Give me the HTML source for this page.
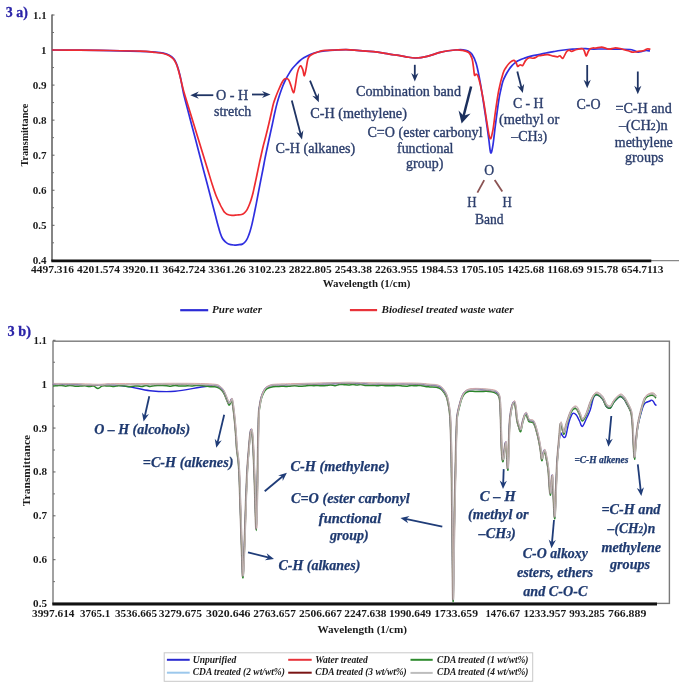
<!DOCTYPE html>
<html><head><meta charset="utf-8"><style>
html,body{margin:0;padding:0;background:#fff;}
svg{display:block;filter:blur(0.35px);}
text{font-family:"Liberation Serif",serif;}
.lbl{font-size:14px;font-weight:bold;fill:#2a23a8;stroke:#2a23a8;stroke-width:0.3px;}
.ax{font-size:10px;font-weight:bold;fill:#1a1a1a;}
.lg{font-size:10px;font-weight:bold;font-style:italic;fill:#1a1a1a;}
.lg2{font-size:9.5px;font-weight:bold;font-style:italic;fill:#1a1a1a;}
.an{font-size:14px;fill:#2c3e6c;stroke:#2c3e6c;stroke-width:0.35px;}
.bn{font-size:14px;font-weight:bold;font-style:italic;fill:#1f3a70;stroke:#1f3a70;stroke-width:0.25px;}
</style></head><body>
<svg width="685" height="688" viewBox="0 0 685 688">
<rect width="685" height="688" fill="#fff"/>
<text x="5.8" y="17.1" class="lbl" textLength="22" lengthAdjust="spacingAndGlyphs">3 a)</text>
<line x1="52" y1="14.5" x2="52" y2="261" stroke="#707070" stroke-width="1.7"/>
<line x1="52" y1="15.00" x2="54.5" y2="15.00" stroke="#606060" stroke-width="1"/>
<line x1="52" y1="32.50" x2="54" y2="32.50" stroke="#707070" stroke-width="1"/>
<line x1="52" y1="50.05" x2="54.5" y2="50.05" stroke="#606060" stroke-width="1"/>
<line x1="52" y1="67.55" x2="54" y2="67.55" stroke="#707070" stroke-width="1"/>
<line x1="52" y1="85.10" x2="54.5" y2="85.10" stroke="#606060" stroke-width="1"/>
<line x1="52" y1="102.60" x2="54" y2="102.60" stroke="#707070" stroke-width="1"/>
<line x1="52" y1="120.15" x2="54.5" y2="120.15" stroke="#606060" stroke-width="1"/>
<line x1="52" y1="137.65" x2="54" y2="137.65" stroke="#707070" stroke-width="1"/>
<line x1="52" y1="155.20" x2="54.5" y2="155.20" stroke="#606060" stroke-width="1"/>
<line x1="52" y1="172.70" x2="54" y2="172.70" stroke="#707070" stroke-width="1"/>
<line x1="52" y1="190.25" x2="54.5" y2="190.25" stroke="#606060" stroke-width="1"/>
<line x1="52" y1="207.75" x2="54" y2="207.75" stroke="#707070" stroke-width="1"/>
<line x1="52" y1="225.30" x2="54.5" y2="225.30" stroke="#606060" stroke-width="1"/>
<line x1="52" y1="242.80" x2="54" y2="242.80" stroke="#707070" stroke-width="1"/>
<line x1="52" y1="260.35" x2="54.5" y2="260.35" stroke="#606060" stroke-width="1"/>
<text x="46.6" y="18.50" class="ax" text-anchor="end" textLength="13.5" lengthAdjust="spacingAndGlyphs">1.1</text>
<text x="46.6" y="53.55" class="ax" text-anchor="end" textLength="5.5" lengthAdjust="spacingAndGlyphs">1</text>
<text x="46.6" y="88.60" class="ax" text-anchor="end" textLength="13.9" lengthAdjust="spacingAndGlyphs">0.9</text>
<text x="46.6" y="123.65" class="ax" text-anchor="end" textLength="13.9" lengthAdjust="spacingAndGlyphs">0.8</text>
<text x="46.6" y="158.70" class="ax" text-anchor="end" textLength="13.9" lengthAdjust="spacingAndGlyphs">0.7</text>
<text x="46.6" y="193.75" class="ax" text-anchor="end" textLength="13.9" lengthAdjust="spacingAndGlyphs">0.6</text>
<text x="46.6" y="228.80" class="ax" text-anchor="end" textLength="13.9" lengthAdjust="spacingAndGlyphs">0.5</text>
<text x="46.6" y="263.85" class="ax" text-anchor="end" textLength="13.9" lengthAdjust="spacingAndGlyphs">0.4</text>
<text transform="translate(28,166.5) rotate(-90)" class="ax" textLength="62.8" lengthAdjust="spacingAndGlyphs">Transmittance</text>
<line x1="52" y1="260.6" x2="679" y2="260.6" stroke="#888" stroke-width="1.1"/>
<line x1="51.3" y1="260.8" x2="651.3" y2="260.8" stroke="#111" stroke-width="2.7"/>
<text x="31" y="272.6" class="ax" textLength="632.6" lengthAdjust="spacingAndGlyphs">4497.316 4201.574 3920.11 3642.724 3361.26 3102.23 2822.805 2543.38 2263.955 1984.53 1705.105 1425.68 1168.69 915.78 654.7113</text>
<text x="322.8" y="286.6" class="ax" textLength="87.6" lengthAdjust="spacingAndGlyphs">Wavelength (1/cm)</text>
<line x1="180.2" y1="310.2" x2="208.2" y2="310.2" stroke="#2b2bd6" stroke-width="2.2"/>
<text x="212" y="312.6" class="lg" textLength="50" lengthAdjust="spacingAndGlyphs">Pure water</text>
<line x1="349.9" y1="310.1" x2="377.1" y2="310.1" stroke="#e8333a" stroke-width="2.2"/>
<text x="381.5" y="312.6" class="lg" textLength="132" lengthAdjust="spacingAndGlyphs">Biodiesel treated waste water</text>
<path d="M52.00,50.00 C56.67,50.03 70.33,50.10 80.00,50.20 C89.67,50.30 100.00,50.40 110.00,50.60 C120.00,50.80 132.50,51.13 140.00,51.40 C147.50,51.67 151.10,51.90 155.00,52.20 C158.90,52.50 161.02,52.70 163.40,53.20 C165.78,53.70 167.60,54.30 169.30,55.20 C171.00,56.10 172.47,57.33 173.60,58.60 C174.73,59.87 175.33,61.12 176.10,62.80 C176.87,64.48 177.50,66.37 178.20,68.70 C178.90,71.03 179.62,73.75 180.30,76.80 C180.98,79.85 181.70,83.97 182.30,87.00 C182.90,90.03 182.98,91.17 183.90,95.00 C184.82,98.83 186.50,105.00 187.80,110.00 C189.10,115.00 190.38,120.00 191.70,125.00 C193.02,130.00 194.38,135.00 195.70,140.00 C197.02,145.00 198.30,150.00 199.60,155.00 C200.90,160.00 202.18,165.00 203.50,170.00 C204.82,175.00 206.18,180.00 207.50,185.00 C208.82,190.00 210.10,195.00 211.40,200.00 C212.70,205.00 214.22,210.83 215.30,215.00 C216.38,219.17 217.08,222.00 217.90,225.00 C218.72,228.00 219.43,230.75 220.20,233.00 C220.97,235.25 221.70,237.08 222.50,238.50 C223.30,239.92 224.00,240.58 225.00,241.50 C226.00,242.42 227.05,243.42 228.50,244.00 C229.95,244.58 232.12,244.87 233.70,245.00 C235.28,245.13 236.55,244.95 238.00,244.80 C239.45,244.65 241.15,244.65 242.40,244.10 C243.65,243.55 244.63,242.52 245.50,241.50 C246.37,240.48 246.85,239.67 247.60,238.00 C248.35,236.33 249.27,233.82 250.00,231.50 C250.73,229.18 251.30,227.02 252.00,224.10 C252.70,221.18 253.47,217.48 254.20,214.00 C254.93,210.52 255.68,206.87 256.40,203.20 C257.12,199.53 257.78,195.78 258.50,192.00 C259.22,188.22 259.95,184.33 260.70,180.50 C261.45,176.67 262.27,172.77 263.00,169.00 C263.73,165.23 264.32,161.82 265.10,157.90 C265.88,153.98 266.83,149.57 267.70,145.50 C268.57,141.43 269.53,137.00 270.30,133.50 C271.07,130.00 271.58,127.83 272.30,124.50 C273.02,121.17 273.80,117.07 274.60,113.50 C275.40,109.93 276.22,106.35 277.10,103.10 C277.98,99.85 278.93,96.90 279.90,94.00 C280.87,91.10 281.93,88.12 282.90,85.70 C283.87,83.28 284.73,81.43 285.70,79.50 C286.67,77.57 287.65,75.85 288.70,74.10 C289.75,72.35 290.83,70.55 292.00,69.00 C293.17,67.45 294.45,66.13 295.70,64.80 C296.95,63.47 298.15,62.17 299.50,61.00 C300.85,59.83 301.92,58.92 303.80,57.80 C305.68,56.68 308.47,55.27 310.80,54.30 C313.13,53.33 315.47,52.58 317.80,52.00 C320.13,51.42 321.93,51.12 324.80,50.80 C327.67,50.48 330.80,50.27 335.00,50.10 C339.20,49.93 343.60,49.53 350.00,49.80 C356.40,50.07 367.57,51.12 373.40,51.70 C379.23,52.28 381.10,52.72 385.00,53.30 C388.90,53.88 393.30,54.62 396.80,55.20 C400.30,55.78 402.90,56.33 406.00,56.80 C409.10,57.27 411.88,58.07 415.40,58.00 C418.92,57.93 422.82,57.38 427.10,56.40 C431.38,55.42 436.42,53.17 441.10,52.10 C445.78,51.03 451.55,50.38 455.20,50.00 C458.85,49.62 460.87,49.63 463.00,49.80 C465.13,49.97 466.50,50.27 468.00,51.00 C469.50,51.73 470.63,52.13 472.00,54.20 C473.37,56.27 474.80,58.53 476.20,63.40 C477.60,68.27 478.87,74.77 480.40,83.40 C481.93,92.03 484.02,106.00 485.40,115.20 C486.78,124.40 487.82,132.33 488.70,138.60 C489.58,144.87 490.00,151.68 490.70,152.80 C491.40,153.92 492.12,149.90 492.90,145.30 C493.68,140.70 494.42,132.72 495.40,125.20 C496.38,117.68 497.87,106.23 498.80,100.20 C499.73,94.17 500.30,92.20 501.00,89.00 C501.70,85.80 502.17,83.42 503.00,81.00 C503.83,78.58 505.00,76.42 506.00,74.50 C507.00,72.58 508.00,70.98 509.00,69.50 C510.00,68.02 511.00,66.72 512.00,65.60 C513.00,64.48 514.00,63.60 515.00,62.80 C516.00,62.00 517.00,61.37 518.00,60.80 C519.00,60.23 519.97,59.83 521.00,59.40 C522.03,58.97 522.53,58.73 524.20,58.20 C525.87,57.67 528.57,56.80 531.00,56.20 C533.43,55.60 536.30,55.13 538.80,54.60 C541.30,54.07 543.57,53.48 546.00,53.00 C548.43,52.52 551.07,52.12 553.40,51.70 C555.73,51.28 557.57,50.87 560.00,50.50 C562.43,50.13 565.50,49.75 568.00,49.50 C570.50,49.25 572.57,49.17 575.00,49.00 C577.43,48.83 580.10,48.50 582.60,48.50 C585.10,48.50 586.27,48.92 590.00,49.00 C593.73,49.08 600.00,48.97 605.00,49.00 C610.00,49.03 615.83,49.12 620.00,49.20 C624.17,49.28 627.67,49.28 630.00,49.50 C632.33,49.72 632.67,50.05 634.00,50.50 C635.33,50.95 636.67,52.03 638.00,52.20 C639.33,52.37 640.67,51.78 642.00,51.50 C643.33,51.22 644.67,50.58 646.00,50.50 C647.33,50.42 649.33,50.92 650.00,51.00" fill="none" stroke="#2f2fe0" stroke-width="1.7" stroke-linejoin="round"/>
<path d="M52.00,50.00 C56.67,50.03 70.33,50.12 80.00,50.20 C89.67,50.28 100.00,50.33 110.00,50.50 C120.00,50.67 132.50,50.88 140.00,51.20 C147.50,51.52 151.10,52.02 155.00,52.40 C158.90,52.78 161.02,52.95 163.40,53.50 C165.78,54.05 167.60,54.75 169.30,55.70 C171.00,56.65 172.47,57.90 173.60,59.20 C174.73,60.50 175.33,61.80 176.10,63.50 C176.87,65.20 177.50,67.05 178.20,69.40 C178.90,71.75 179.53,74.53 180.30,77.60 C181.07,80.67 182.05,84.90 182.80,87.80 C183.55,90.70 183.70,91.30 184.80,95.00 C185.90,98.70 187.87,105.00 189.40,110.00 C190.93,115.00 192.47,120.00 194.00,125.00 C195.53,130.00 197.07,135.00 198.60,140.00 C200.13,145.00 201.67,150.00 203.20,155.00 C204.73,160.00 206.27,165.00 207.80,170.00 C209.33,175.00 211.03,180.75 212.40,185.00 C213.77,189.25 214.72,192.25 216.00,195.50 C217.28,198.75 219.02,202.25 220.10,204.50 C221.18,206.75 221.78,207.73 222.50,209.00 C223.22,210.27 223.65,211.22 224.40,212.10 C225.15,212.98 225.73,213.75 227.00,214.30 C228.27,214.85 230.33,215.28 232.00,215.40 C233.67,215.52 235.40,215.15 237.00,215.00 C238.60,214.85 240.35,214.87 241.60,214.50 C242.85,214.13 243.63,213.53 244.50,212.80 C245.37,212.07 246.05,211.32 246.80,210.10 C247.55,208.88 248.28,207.23 249.00,205.50 C249.72,203.77 250.43,201.78 251.10,199.70 C251.77,197.62 252.42,195.33 253.00,193.00 C253.58,190.67 253.97,188.62 254.60,185.70 C255.23,182.78 256.07,178.98 256.80,175.50 C257.53,172.02 258.27,168.22 259.00,164.80 C259.73,161.38 260.48,158.18 261.20,155.00 C261.92,151.82 262.50,148.95 263.30,145.70 C264.10,142.45 265.08,139.12 266.00,135.50 C266.92,131.88 267.93,127.67 268.80,124.00 C269.67,120.33 270.40,116.98 271.20,113.50 C272.00,110.02 272.72,106.18 273.60,103.10 C274.48,100.02 275.53,97.52 276.50,95.00 C277.47,92.48 278.48,90.08 279.40,88.00 C280.32,85.92 281.22,83.95 282.00,82.50 C282.78,81.05 283.37,79.97 284.10,79.30 C284.83,78.63 285.63,78.40 286.40,78.50 C287.17,78.60 287.93,78.70 288.70,79.90 C289.47,81.10 290.22,83.57 291.00,85.70 C291.78,87.83 292.72,92.50 293.40,92.70 C294.08,92.90 294.43,90.20 295.10,86.90 C295.77,83.60 296.53,76.40 297.40,72.90 C298.27,69.40 299.42,66.48 300.30,65.90 C301.18,65.32 302.02,67.75 302.70,69.40 C303.38,71.05 303.82,75.98 304.40,75.80 C304.98,75.62 305.62,71.10 306.20,68.30 C306.78,65.50 307.23,61.13 307.90,59.00 C308.57,56.87 308.55,56.67 310.20,55.50 C311.85,54.33 315.37,52.85 317.80,52.00 C320.23,51.15 321.93,50.73 324.80,50.40 C327.67,50.07 330.80,50.10 335.00,50.00 C339.20,49.90 343.60,49.52 350.00,49.80 C356.40,50.08 367.57,51.12 373.40,51.70 C379.23,52.28 381.10,52.72 385.00,53.30 C388.90,53.88 393.30,54.62 396.80,55.20 C400.30,55.78 402.90,56.33 406.00,56.80 C409.10,57.27 411.88,58.07 415.40,58.00 C418.92,57.93 422.82,57.38 427.10,56.40 C431.38,55.42 436.42,53.17 441.10,52.10 C445.78,51.03 451.72,50.30 455.20,50.00 C458.68,49.70 459.75,49.88 462.00,50.30 C464.25,50.72 467.03,51.15 468.70,52.50 C470.37,53.85 471.22,56.03 472.00,58.40 C472.78,60.77 472.98,63.92 473.40,66.70 C473.82,69.48 474.03,73.85 474.50,75.10 C474.97,76.35 475.63,74.07 476.20,74.20 C476.77,74.33 477.20,74.08 477.90,75.90 C478.60,77.72 479.43,80.78 480.40,85.10 C481.37,89.42 482.58,95.38 483.70,101.80 C484.82,108.22 486.03,117.47 487.10,123.60 C488.17,129.73 489.13,137.50 490.10,138.60 C491.07,139.70 492.02,134.65 492.90,130.20 C493.78,125.75 494.42,118.58 495.40,111.90 C496.38,105.22 497.53,96.52 498.80,90.10 C500.07,83.68 501.80,77.17 503.00,73.40 C504.20,69.63 505.00,69.15 506.00,67.50 C507.00,65.85 508.00,64.58 509.00,63.50 C510.00,62.42 511.17,61.52 512.00,61.00 C512.83,60.48 513.33,60.15 514.00,60.40 C514.67,60.65 515.40,61.52 516.00,62.50 C516.60,63.48 517.10,65.80 517.60,66.30 C518.10,66.80 518.52,65.75 519.00,65.50 C519.48,65.25 519.88,64.80 520.50,64.80 C521.12,64.80 521.83,66.23 522.70,65.50 C523.57,64.77 524.60,61.68 525.70,60.40 C526.80,59.12 527.97,58.17 529.30,57.80 C530.63,57.43 532.12,58.53 533.70,58.20 C535.28,57.87 537.25,56.30 538.80,55.80 C540.35,55.30 541.53,55.40 543.00,55.20 C544.47,55.00 545.87,54.45 547.60,54.60 C549.33,54.75 551.70,55.73 553.40,56.10 C555.10,56.47 556.70,56.85 557.80,56.80 C558.90,56.75 559.15,55.57 560.00,55.80 C560.85,56.03 561.82,58.88 562.90,58.20 C563.98,57.52 565.40,53.03 566.50,51.70 C567.60,50.37 568.65,50.25 569.50,50.20 C570.35,50.15 570.38,51.52 571.60,51.40 C572.82,51.28 574.97,49.93 576.80,49.50 C578.63,49.07 581.32,48.47 582.60,48.80 C583.88,49.13 583.90,50.28 584.50,51.50 C585.10,52.72 585.62,56.02 586.20,56.10 C586.78,56.18 587.38,53.18 588.00,52.00 C588.62,50.82 589.10,49.67 589.90,49.00 C590.70,48.33 591.78,48.17 592.80,48.00 C593.82,47.83 594.53,48.15 596.00,48.00 C597.47,47.85 599.93,47.05 601.60,47.10 C603.27,47.15 604.65,47.95 606.00,48.30 C607.35,48.65 608.28,49.25 609.70,49.20 C611.12,49.15 612.78,48.12 614.50,48.00 C616.22,47.88 618.25,48.17 620.00,48.50 C621.75,48.83 623.50,49.58 625.00,50.00 C626.50,50.42 627.83,50.63 629.00,51.00 C630.17,51.37 630.83,52.07 632.00,52.20 C633.17,52.33 634.63,51.97 636.00,51.80 C637.37,51.63 638.87,51.42 640.20,51.20 C641.53,50.98 642.87,50.87 644.00,50.50 C645.13,50.13 645.93,49.22 647.00,49.00 C648.07,48.78 649.83,49.17 650.40,49.20" fill="none" stroke="#ee2b30" stroke-width="1.7" stroke-linejoin="round"/>
<text x="216" y="99.6" class="an" textLength="32.3" lengthAdjust="spacingAndGlyphs">O - H</text>
<text x="214" y="116" class="an" textLength="37.2" lengthAdjust="spacingAndGlyphs">stretch</text>
<text x="310.2" y="117.8" class="an" textLength="96.7" lengthAdjust="spacingAndGlyphs">C-H (methylene)</text>
<text x="275.6" y="153" class="an" textLength="79.6" lengthAdjust="spacingAndGlyphs">C-H (alkanes)</text>
<text x="356" y="95.5" class="an" textLength="105" lengthAdjust="spacingAndGlyphs">Combination band</text>
<text x="367.4" y="137.4" class="an" textLength="115.2" lengthAdjust="spacingAndGlyphs">C=O (ester carbonyl</text>
<text x="397" y="152.8" class="an" textLength="56.5" lengthAdjust="spacingAndGlyphs">functional</text>
<text x="406.1" y="168.2" class="an" textLength="37.2" lengthAdjust="spacingAndGlyphs">group)</text>
<text x="512.9" y="108.2" class="an" textLength="30.7" lengthAdjust="spacingAndGlyphs">C - H</text>
<text x="498.9" y="124.1" class="an" textLength="60.4" lengthAdjust="spacingAndGlyphs">(methyl or</text>
<text x="511.2" y="140.7" class="an" textLength="35.9" lengthAdjust="spacingAndGlyphs">–CH<tspan font-size="9.5">3</tspan>)</text>
<text x="576.5" y="108.5" class="an" textLength="24.1" lengthAdjust="spacingAndGlyphs">C-O</text>
<text x="615.4" y="113.2" class="an" textLength="56.4" lengthAdjust="spacingAndGlyphs">=C-H and</text>
<text x="618.9" y="129.5" class="an" textLength="48.8" lengthAdjust="spacingAndGlyphs">–(CH<tspan font-size="9.5">2</tspan>)n</text>
<text x="614.8" y="146.8" class="an" textLength="58" lengthAdjust="spacingAndGlyphs">methylene</text>
<text x="625" y="162.2" class="an" textLength="38.6" lengthAdjust="spacingAndGlyphs">groups</text>
<text x="484.2" y="174.5" class="an" textLength="9.9" lengthAdjust="spacingAndGlyphs">O</text>
<text x="467.3" y="207.2" class="an" textLength="9.3" lengthAdjust="spacingAndGlyphs">H</text>
<text x="502.6" y="207.2" class="an" textLength="9.3" lengthAdjust="spacingAndGlyphs">H</text>
<text x="474.9" y="223.6" class="an" textLength="28.6" lengthAdjust="spacingAndGlyphs">Band</text>
<line x1="484.2" y1="180.1" x2="477.4" y2="192.6" stroke="#8a5252" stroke-width="1.8"/>
<line x1="494.7" y1="180.1" x2="502.3" y2="191.5" stroke="#8a5252" stroke-width="1.8"/>
<line x1="213.30" y1="95.20" x2="195.40" y2="95.20" stroke="#1f3464" stroke-width="1.8"/>
<path d="M190.30,95.20 L198.80,91.60 L196.00,95.20 L198.80,98.80 Z" fill="#1f3464"/>
<line x1="252.00" y1="94.50" x2="265.40" y2="94.50" stroke="#1f3464" stroke-width="1.8"/>
<path d="M270.50,94.50 L262.00,98.10 L264.80,94.50 L262.00,90.90 Z" fill="#1f3464"/>
<line x1="291.80" y1="100.40" x2="300.71" y2="134.57" stroke="#1f3464" stroke-width="1.8"/>
<path d="M302.00,139.50 L296.37,132.18 L300.56,133.98 L303.34,130.37 Z" fill="#1f3464"/>
<line x1="310.00" y1="80.70" x2="316.87" y2="97.48" stroke="#1f3464" stroke-width="1.8"/>
<path d="M318.80,102.20 L312.25,95.70 L316.64,96.92 L318.91,92.97 Z" fill="#1f3464"/>
<line x1="414.80" y1="64.80" x2="414.80" y2="76.40" stroke="#1f3464" stroke-width="1.8"/>
<path d="M414.80,81.50 L411.20,73.00 L414.80,75.80 L418.40,73.00 Z" fill="#1f3464"/>
<line x1="471.10" y1="86.50" x2="463.49" y2="116.24" stroke="#1b2f5c" stroke-width="2.5"/>
<path d="M461.60,123.60 L458.57,110.44 L463.63,115.66 L470.58,113.51 Z" fill="#1b2f5c"/>
<line x1="517.30" y1="71.50" x2="521.54" y2="88.06" stroke="#1f3464" stroke-width="1.8"/>
<path d="M522.80,93.00 L517.21,85.66 L521.39,87.48 L524.18,83.87 Z" fill="#1f3464"/>
<line x1="587.20" y1="65.00" x2="587.20" y2="83.10" stroke="#1f3464" stroke-width="1.8"/>
<path d="M587.20,88.20 L583.60,79.70 L587.20,82.50 L590.80,79.70 Z" fill="#1f3464"/>
<line x1="637.80" y1="71.50" x2="637.80" y2="89.10" stroke="#1f3464" stroke-width="1.8"/>
<path d="M637.80,94.20 L634.20,85.70 L637.80,88.50 L641.40,85.70 Z" fill="#1f3464"/>
<text x="7.6" y="335.8" class="lbl" textLength="23.4" lengthAdjust="spacingAndGlyphs">3 b)</text>
<rect x="53" y="341.2" width="616.4" height="262.2" fill="none" stroke="#7a7a7a" stroke-width="1.4"/>
<line x1="53" y1="340.30" x2="55.5" y2="340.30" stroke="#606060" stroke-width="1"/>
<line x1="53" y1="362.24" x2="55" y2="362.24" stroke="#707070" stroke-width="1"/>
<line x1="53" y1="384.18" x2="55.5" y2="384.18" stroke="#606060" stroke-width="1"/>
<line x1="53" y1="406.12" x2="55" y2="406.12" stroke="#707070" stroke-width="1"/>
<line x1="53" y1="428.06" x2="55.5" y2="428.06" stroke="#606060" stroke-width="1"/>
<line x1="53" y1="450.00" x2="55" y2="450.00" stroke="#707070" stroke-width="1"/>
<line x1="53" y1="471.94" x2="55.5" y2="471.94" stroke="#606060" stroke-width="1"/>
<line x1="53" y1="493.88" x2="55" y2="493.88" stroke="#707070" stroke-width="1"/>
<line x1="53" y1="515.82" x2="55.5" y2="515.82" stroke="#606060" stroke-width="1"/>
<line x1="53" y1="537.76" x2="55" y2="537.76" stroke="#707070" stroke-width="1"/>
<line x1="53" y1="559.70" x2="55.5" y2="559.70" stroke="#606060" stroke-width="1"/>
<line x1="53" y1="581.64" x2="55" y2="581.64" stroke="#707070" stroke-width="1"/>
<line x1="53" y1="603.58" x2="55.5" y2="603.58" stroke="#606060" stroke-width="1"/>
<text x="47" y="343.80" class="ax" text-anchor="end" textLength="13.5" lengthAdjust="spacingAndGlyphs">1.1</text>
<text x="47" y="387.68" class="ax" text-anchor="end" textLength="5.5" lengthAdjust="spacingAndGlyphs">1</text>
<text x="47" y="431.56" class="ax" text-anchor="end" textLength="13.9" lengthAdjust="spacingAndGlyphs">0.9</text>
<text x="47" y="475.44" class="ax" text-anchor="end" textLength="13.9" lengthAdjust="spacingAndGlyphs">0.8</text>
<text x="47" y="519.32" class="ax" text-anchor="end" textLength="13.9" lengthAdjust="spacingAndGlyphs">0.7</text>
<text x="47" y="563.20" class="ax" text-anchor="end" textLength="13.9" lengthAdjust="spacingAndGlyphs">0.6</text>
<text x="47" y="607.08" class="ax" text-anchor="end" textLength="13.9" lengthAdjust="spacingAndGlyphs">0.5</text>
<text transform="translate(29.6,506.2) rotate(-90)" class="ax" textLength="71.4" lengthAdjust="spacingAndGlyphs">Transmittance</text>
<line x1="52.3" y1="604" x2="657" y2="604" stroke="#111" stroke-width="2.8"/>
<text x="32" y="616.6" class="ax" textLength="42.5" lengthAdjust="spacingAndGlyphs">3997.614</text>
<text x="79.9" y="616.6" class="ax" textLength="30.4" lengthAdjust="spacingAndGlyphs">3765.1</text>
<text x="115" y="616.6" class="ax" textLength="42.0" lengthAdjust="spacingAndGlyphs">3536.665</text>
<text x="158.7" y="616.6" class="ax" textLength="43.3" lengthAdjust="spacingAndGlyphs">3279.675</text>
<text x="206" y="616.6" class="ax" textLength="44.5" lengthAdjust="spacingAndGlyphs">3020.646</text>
<text x="253.3" y="616.6" class="ax" textLength="42.5" lengthAdjust="spacingAndGlyphs">2763.657</text>
<text x="299" y="616.6" class="ax" textLength="43.0" lengthAdjust="spacingAndGlyphs">2506.667</text>
<text x="344.3" y="616.6" class="ax" textLength="42.2" lengthAdjust="spacingAndGlyphs">2247.638</text>
<text x="388.9" y="616.6" class="ax" textLength="42.3" lengthAdjust="spacingAndGlyphs">1990.649</text>
<text x="434.3" y="616.6" class="ax" textLength="43.7" lengthAdjust="spacingAndGlyphs">1733.659</text>
<text x="485.5" y="616.6" class="ax" textLength="34.7" lengthAdjust="spacingAndGlyphs">1476.67</text>
<text x="523.4" y="616.6" class="ax" textLength="42.7" lengthAdjust="spacingAndGlyphs">1233.957</text>
<text x="569.2" y="616.6" class="ax" textLength="35.6" lengthAdjust="spacingAndGlyphs">993.285</text>
<text x="608" y="616.6" class="ax" textLength="38.3" lengthAdjust="spacingAndGlyphs">766.889</text>
<text x="317.5" y="633.2" class="ax" textLength="89.5" lengthAdjust="spacingAndGlyphs">Wavelength (1/cm)</text>
<rect x="164.2" y="652.8" width="368.5" height="28.5" fill="#fff" stroke="#c8c8c8" stroke-width="1"/>
<line x1="166.9" y1="659.8" x2="189.7" y2="659.8" stroke="#2a2ad0" stroke-width="2"/>
<text x="192.8" y="662.6" class="lg2" textLength="43.5" lengthAdjust="spacingAndGlyphs">Unpurified</text>
<line x1="288.2" y1="659.8" x2="311.7" y2="659.8" stroke="#e8333a" stroke-width="2"/>
<text x="315.2" y="662.6" class="lg2" textLength="52.7" lengthAdjust="spacingAndGlyphs">Water treated</text>
<line x1="410.5" y1="659.8" x2="432.7" y2="659.8" stroke="#2e8b2e" stroke-width="2"/>
<text x="436.9" y="662.6" class="lg2" textLength="91.6" lengthAdjust="spacingAndGlyphs">CDA treated (1 wt/wt%)</text>
<line x1="166.9" y1="672.7" x2="189.7" y2="672.7" stroke="#9cc8ec" stroke-width="2"/>
<text x="192.8" y="675.4" class="lg2" textLength="92" lengthAdjust="spacingAndGlyphs">CDA treated (2 wt/wt%)</text>
<line x1="288.2" y1="672.7" x2="311.7" y2="672.7" stroke="#7a1414" stroke-width="2"/>
<text x="315.2" y="675.4" class="lg2" textLength="91.5" lengthAdjust="spacingAndGlyphs">CDA treated (3 wt/wt%)</text>
<line x1="410.5" y1="672.9" x2="432.7" y2="672.9" stroke="#bdbdbd" stroke-width="2"/>
<text x="436.9" y="675.4" class="lg2" textLength="91.6" lengthAdjust="spacingAndGlyphs">CDA treated (4 wt/wt%)</text>
<path d="M53.00,384.30 C55.83,384.32 64.67,384.32 70.00,384.40 C75.33,384.48 80.33,384.67 85.00,384.80 C89.67,384.93 93.83,385.23 98.00,385.20 C102.17,385.17 104.67,384.32 110.00,384.60 C115.33,384.88 123.33,385.85 130.00,386.87 C136.67,387.89 142.50,389.97 150.00,390.71 C157.50,391.45 166.67,391.90 175.00,391.31 C183.33,390.73 193.33,388.24 200.00,387.22 C206.67,386.20 211.83,385.32 215.00,385.20 C218.17,385.08 217.78,385.78 219.00,386.50 C220.22,387.22 221.38,388.42 222.30,389.50 C223.22,390.58 223.78,391.55 224.50,393.00 C225.22,394.45 225.88,396.48 226.60,398.20 C227.32,399.92 228.18,402.70 228.80,403.30 C229.42,403.90 229.82,402.52 230.30,401.80 C230.78,401.08 231.25,398.47 231.70,399.00 C232.15,399.53 232.52,401.73 233.00,405.00 C233.48,408.27 234.10,413.60 234.60,418.60 C235.10,423.60 235.63,430.17 236.00,435.00 C236.37,439.83 236.30,442.10 236.80,447.60 C237.30,453.10 238.38,457.60 239.00,468.00 C239.62,478.40 240.00,495.50 240.50,510.00 C241.00,524.50 241.58,544.00 242.00,555.00 C242.42,566.00 242.58,577.67 243.00,576.00 C243.42,574.33 244.00,557.67 244.50,545.00 C245.00,532.33 245.53,512.50 246.00,500.00 C246.47,487.50 246.80,478.83 247.30,470.00 C247.80,461.17 248.50,453.17 249.00,447.00 C249.50,440.83 249.92,435.92 250.30,433.00 C250.68,430.08 250.97,429.33 251.30,429.50 C251.63,429.67 251.95,430.58 252.30,434.00 C252.65,437.42 253.02,442.33 253.40,450.00 C253.78,457.67 254.12,466.83 254.60,480.00 C255.08,493.17 255.82,529.00 256.30,529.00 C256.78,529.00 257.12,498.40 257.50,480.00 C257.88,461.60 258.18,431.27 258.60,418.60 C259.02,405.93 259.52,407.63 260.00,404.00 C260.48,400.37 260.92,398.88 261.50,396.80 C262.08,394.72 262.78,392.97 263.50,391.50 C264.22,390.03 264.88,388.88 265.80,388.00 C266.72,387.12 267.78,386.67 269.00,386.20 C270.22,385.73 269.60,385.47 273.10,385.20 C276.60,384.93 283.22,384.80 290.00,384.60 C296.78,384.40 306.30,384.18 313.80,384.00 C321.30,383.82 329.17,383.65 335.00,383.50 C340.83,383.35 343.80,383.08 348.80,383.10 C353.80,383.12 358.13,383.45 365.00,383.60 C371.87,383.75 381.50,383.93 390.00,384.00 C398.50,384.07 409.33,383.82 416.00,384.00 C422.67,384.18 426.60,384.83 430.00,385.10 C433.40,385.37 434.57,385.20 436.40,385.60 C438.23,386.00 439.63,386.45 441.00,387.50 C442.37,388.55 443.65,390.48 444.60,391.90 C445.55,393.32 446.10,394.30 446.70,396.00 C447.30,397.70 447.73,399.77 448.20,402.10 C448.67,404.43 449.13,406.83 449.50,410.00 C449.87,413.17 450.10,414.43 450.40,421.10 C450.70,427.77 451.05,438.52 451.30,450.00 C451.55,461.48 451.70,473.33 451.90,490.00 C452.10,506.67 452.30,531.70 452.50,550.00 C452.70,568.30 452.88,598.13 453.10,599.80 C453.32,601.47 453.55,574.97 453.80,560.00 C454.05,545.03 454.32,525.00 454.60,510.00 C454.88,495.00 455.23,481.67 455.50,470.00 C455.77,458.33 455.95,448.63 456.20,440.00 C456.45,431.37 456.65,423.20 457.00,418.20 C457.35,413.20 457.82,412.43 458.30,410.00 C458.78,407.57 459.37,405.60 459.90,403.60 C460.43,401.60 460.88,399.70 461.50,398.00 C462.12,396.30 462.85,394.57 463.60,393.40 C464.35,392.23 465.03,391.62 466.00,391.00 C466.97,390.38 467.90,389.98 469.40,389.70 C470.90,389.42 473.05,389.33 475.00,389.30 C476.95,389.27 478.38,389.32 481.10,389.50 C483.82,389.68 488.90,390.07 491.30,390.40 C493.70,390.73 494.40,391.00 495.50,391.50 C496.60,392.00 497.27,392.57 497.90,393.40 C498.53,394.23 498.93,395.05 499.30,396.50 C499.67,397.95 499.85,398.18 500.10,402.10 C500.35,406.02 500.53,412.08 500.80,420.00 C501.07,427.92 501.32,442.95 501.70,449.60 C502.08,456.25 502.42,461.12 503.10,459.90 C503.78,458.68 505.02,440.85 505.80,442.30 C506.58,443.75 507.30,468.15 507.80,468.60 C508.30,469.05 508.48,452.78 508.80,445.00 C509.12,437.22 509.25,428.07 509.70,421.90 C510.15,415.73 510.77,411.40 511.50,408.00 C512.23,404.60 513.38,401.50 514.10,401.50 C514.82,401.50 515.32,405.08 515.80,408.00 C516.28,410.92 516.50,416.00 517.00,419.00 C517.50,422.00 518.18,424.18 518.80,426.00 C519.42,427.82 520.00,430.90 520.70,429.90 C521.40,428.90 522.15,422.80 523.00,420.00 C523.85,417.20 524.85,413.15 525.80,413.10 C526.75,413.05 527.83,418.47 528.70,419.70 C529.57,420.93 530.27,420.25 531.00,420.50 C531.73,420.75 532.43,420.45 533.10,421.20 C533.77,421.95 534.40,423.42 535.00,425.00 C535.60,426.58 536.12,428.53 536.70,430.70 C537.28,432.87 537.88,435.08 538.50,438.00 C539.12,440.92 539.85,444.68 540.40,448.20 C540.95,451.72 541.33,458.30 541.80,459.10 C542.27,459.90 542.72,454.45 543.20,453.00 C543.68,451.55 544.15,449.57 544.70,450.40 C545.25,451.23 545.88,454.73 546.50,458.00 C547.12,461.27 547.77,464.08 548.40,470.00 C549.03,475.92 549.67,492.63 550.30,493.50 C550.93,494.37 551.68,474.95 552.20,475.20 C552.72,475.45 552.97,488.02 553.40,495.00 C553.83,501.98 554.37,517.93 554.80,517.10 C555.23,516.27 555.60,499.30 556.00,490.00 C556.40,480.70 556.65,469.63 557.20,461.30 C557.75,452.97 558.75,444.72 559.30,440.00 C559.85,435.28 560.05,433.83 560.50,433.00 C560.95,432.17 561.42,434.25 562.00,435.00 C562.58,435.75 563.37,437.33 564.00,437.50 C564.63,437.67 565.13,437.92 565.80,436.00 C566.47,434.08 567.30,428.83 568.00,426.00 C568.70,423.17 569.20,421.12 570.00,419.00 C570.80,416.88 571.75,413.97 572.80,413.30 C573.85,412.63 575.18,413.72 576.30,415.00 C577.42,416.28 578.48,419.10 579.50,421.00 C580.52,422.90 581.18,426.95 582.40,426.40 C583.62,425.85 585.48,420.47 586.80,417.70 C588.12,414.93 589.13,413.25 590.30,409.80 C591.47,406.35 592.63,399.50 593.80,397.00 C594.97,394.50 595.83,394.47 597.30,394.80 C598.77,395.13 601.15,397.13 602.60,399.00 C604.05,400.87 605.02,404.50 606.00,406.00 C606.98,407.50 607.77,407.67 608.50,408.00 C609.23,408.33 609.73,408.58 610.40,408.00 C611.07,407.42 611.77,405.67 612.50,404.50 C613.23,403.33 613.53,402.33 614.80,401.00 C616.07,399.67 618.57,396.83 620.10,396.50 C621.63,396.17 622.83,397.70 624.00,399.00 C625.17,400.30 626.10,402.55 627.10,404.30 C628.10,406.05 629.27,407.88 630.00,409.50 C630.73,411.12 631.07,411.42 631.50,414.00 C631.93,416.58 632.25,419.83 632.60,425.00 C632.95,430.17 633.27,439.57 633.60,445.00 C633.93,450.43 634.27,457.43 634.60,457.60 C634.93,457.77 635.23,450.02 635.60,446.00 C635.97,441.98 636.32,437.33 636.80,433.50 C637.28,429.67 637.78,426.42 638.50,423.00 C639.22,419.58 640.30,415.83 641.10,413.00 C641.90,410.17 642.57,407.70 643.30,406.00 C644.03,404.30 644.40,403.63 645.50,402.80 C646.60,401.97 648.88,401.45 649.90,401.00 C650.92,400.55 651.02,400.02 651.60,400.10 C652.18,400.18 652.82,400.77 653.40,401.50 C653.98,402.23 654.58,403.83 655.10,404.50 C655.62,405.17 656.27,405.33 656.50,405.50" fill="none" stroke="#2424d8" stroke-width="1.4" stroke-linejoin="round"/>
<path d="M53.00,385.90 C53.71,385.87 55.83,385.78 57.25,385.71 C58.67,385.65 60.08,385.46 61.50,385.53 C62.92,385.60 64.33,386.16 65.75,386.16 C67.17,386.15 68.46,385.48 70.00,385.49 C71.54,385.49 73.33,386.07 75.00,386.18 C76.67,386.28 78.33,386.16 80.00,386.11 C81.67,386.05 83.44,385.80 85.00,385.87 C86.56,385.94 87.89,386.50 89.33,386.54 C90.78,386.58 92.22,385.78 93.67,386.11 C95.11,386.44 96.61,388.53 98.00,388.52 C99.39,388.52 100.67,386.52 102.00,386.08 C103.33,385.65 104.67,385.90 106.00,385.91 C107.33,385.91 108.67,386.00 110.00,386.11 C111.33,386.22 112.67,386.64 114.00,386.57 C115.33,386.51 116.67,385.84 118.00,385.71 C119.33,385.58 120.67,385.71 122.00,385.81 C123.33,385.90 124.67,386.13 126.00,386.27 C127.33,386.41 128.67,386.65 130.00,386.64 C131.33,386.62 132.67,386.29 134.00,386.17 C135.33,386.06 136.67,385.86 138.00,385.94 C139.33,386.01 140.67,386.69 142.00,386.61 C143.33,386.53 144.67,385.51 146.00,385.48 C147.33,385.45 148.64,386.39 150.00,386.43 C151.36,386.47 152.78,385.87 154.17,385.71 C155.56,385.56 156.94,385.55 158.33,385.51 C159.72,385.46 161.11,385.42 162.50,385.44 C163.89,385.46 165.28,385.51 166.67,385.64 C168.06,385.77 169.44,386.25 170.83,386.21 C172.22,386.18 173.61,385.46 175.00,385.42 C176.39,385.37 177.78,385.83 179.17,385.93 C180.56,386.03 181.94,386.06 183.33,386.03 C184.72,386.00 186.11,385.75 187.50,385.75 C188.89,385.74 190.28,386.04 191.67,385.99 C193.06,385.94 194.44,385.53 195.83,385.44 C197.22,385.36 198.47,385.39 200.00,385.47 C201.53,385.55 203.33,385.70 205.00,385.91 C206.67,386.13 208.33,386.60 210.00,386.75 C211.67,386.90 213.50,386.57 215.00,386.80 C216.50,387.03 217.78,387.38 219.00,388.10 C220.22,388.82 221.38,390.02 222.30,391.10 C223.22,392.18 223.78,393.15 224.50,394.60 C225.22,396.05 225.88,398.08 226.60,399.80 C227.32,401.52 228.18,404.30 228.80,404.90 C229.42,405.50 229.82,404.12 230.30,403.40 C230.78,402.68 231.25,400.07 231.70,400.60 C232.15,401.13 232.52,403.33 233.00,406.60 C233.48,409.87 234.10,415.20 234.60,420.20 C235.10,425.20 235.63,431.77 236.00,436.60 C236.37,441.43 236.30,443.70 236.80,449.20 C237.30,454.70 238.38,459.20 239.00,469.60 C239.62,480.00 240.00,497.10 240.50,511.60 C241.00,526.10 241.58,545.60 242.00,556.60 C242.42,567.60 242.58,579.27 243.00,577.60 C243.42,575.93 244.00,559.27 244.50,546.60 C245.00,533.93 245.53,514.10 246.00,501.60 C246.47,489.10 246.80,480.43 247.30,471.60 C247.80,462.77 248.50,454.77 249.00,448.60 C249.50,442.43 249.92,437.52 250.30,434.60 C250.68,431.68 250.97,430.93 251.30,431.10 C251.63,431.27 251.95,432.18 252.30,435.60 C252.65,439.02 253.02,443.93 253.40,451.60 C253.78,459.27 254.12,468.43 254.60,481.60 C255.08,494.77 255.82,530.60 256.30,530.60 C256.78,530.60 257.12,500.00 257.50,481.60 C257.88,463.20 258.18,432.87 258.60,420.20 C259.02,407.53 259.52,409.23 260.00,405.60 C260.48,401.97 260.92,400.48 261.50,398.40 C262.08,396.32 262.78,394.57 263.50,393.10 C264.22,391.63 264.88,390.48 265.80,389.60 C266.72,388.72 267.78,388.27 269.00,387.80 C270.22,387.33 271.71,387.01 273.10,386.80 C274.49,386.59 275.92,386.65 277.33,386.56 C278.73,386.48 280.14,386.30 281.55,386.28 C282.96,386.26 284.37,386.47 285.77,386.45 C287.18,386.43 288.50,386.25 290.00,386.14 C291.50,386.04 293.17,385.81 294.76,385.84 C296.35,385.87 297.93,386.27 299.52,386.31 C301.11,386.35 302.69,386.23 304.28,386.08 C305.87,385.93 307.45,385.48 309.04,385.41 C310.63,385.35 312.30,385.67 313.80,385.69 C315.30,385.71 316.63,385.50 318.04,385.53 C319.45,385.56 320.87,385.84 322.28,385.85 C323.69,385.86 325.11,385.73 326.52,385.58 C327.93,385.42 329.35,384.93 330.76,384.95 C332.17,384.96 333.53,385.75 335.00,385.68 C336.47,385.60 338.07,384.67 339.60,384.51 C341.13,384.35 342.67,384.65 344.20,384.74 C345.73,384.82 347.36,385.06 348.80,385.01 C350.24,384.95 351.50,384.42 352.85,384.41 C354.20,384.40 355.55,384.92 356.90,384.94 C358.25,384.96 359.60,384.44 360.95,384.52 C362.30,384.60 363.63,385.22 365.00,385.40 C366.37,385.58 367.78,385.58 369.17,385.58 C370.56,385.59 371.94,385.38 373.33,385.42 C374.72,385.47 376.11,385.88 377.50,385.85 C378.89,385.82 380.28,385.26 381.67,385.24 C383.06,385.23 384.44,385.69 385.83,385.77 C387.22,385.85 388.58,385.73 390.00,385.71 C391.42,385.70 392.89,385.72 394.33,385.70 C395.78,385.67 397.22,385.50 398.67,385.55 C400.11,385.60 401.56,385.91 403.00,386.01 C404.44,386.11 405.89,386.21 407.33,386.13 C408.78,386.06 410.22,385.63 411.67,385.57 C413.11,385.51 414.50,385.82 416.00,385.80 C417.50,385.78 419.11,385.31 420.67,385.44 C422.22,385.57 423.78,386.34 425.33,386.58 C426.89,386.81 428.16,386.77 430.00,386.88 C431.84,386.98 434.57,386.83 436.40,387.20 C438.23,387.57 439.63,388.05 441.00,389.10 C442.37,390.15 443.65,392.08 444.60,393.50 C445.55,394.92 446.10,395.90 446.70,397.60 C447.30,399.30 447.73,401.37 448.20,403.70 C448.67,406.03 449.13,408.43 449.50,411.60 C449.87,414.77 450.10,416.03 450.40,422.70 C450.70,429.37 451.05,440.12 451.30,451.60 C451.55,463.08 451.70,474.93 451.90,491.60 C452.10,508.27 452.30,533.30 452.50,551.60 C452.70,569.90 452.88,599.73 453.10,601.40 C453.32,603.07 453.55,576.57 453.80,561.60 C454.05,546.63 454.32,526.60 454.60,511.60 C454.88,496.60 455.23,483.27 455.50,471.60 C455.77,459.93 455.95,450.23 456.20,441.60 C456.45,432.97 456.65,424.80 457.00,419.80 C457.35,414.80 457.82,414.03 458.30,411.60 C458.78,409.17 459.37,407.20 459.90,405.20 C460.43,403.20 460.88,401.30 461.50,399.60 C462.12,397.90 462.85,396.17 463.60,395.00 C464.35,393.83 465.03,393.22 466.00,392.60 C466.97,391.98 467.90,391.48 469.40,391.30 C470.90,391.12 473.05,391.46 475.00,391.49 C476.95,391.52 479.23,391.52 481.10,391.49 C482.97,391.45 484.50,391.23 486.20,391.29 C487.90,391.35 489.75,391.56 491.30,391.86 C492.85,392.16 494.40,392.58 495.50,393.10 C496.60,393.62 497.27,394.17 497.90,395.00 C498.53,395.83 498.93,396.65 499.30,398.10 C499.67,399.55 499.85,399.78 500.10,403.70 C500.35,407.62 500.53,413.68 500.80,421.60 C501.07,429.52 501.32,444.55 501.70,451.20 C502.08,457.85 502.42,462.72 503.10,461.50 C503.78,460.28 505.02,442.45 505.80,443.90 C506.58,445.35 507.30,469.75 507.80,470.20 C508.30,470.65 508.48,454.38 508.80,446.60 C509.12,438.82 509.25,429.67 509.70,423.50 C510.15,417.33 510.77,413.00 511.50,409.60 C512.23,406.20 513.38,403.10 514.10,403.10 C514.82,403.10 515.32,406.68 515.80,409.60 C516.28,412.52 516.50,417.60 517.00,420.60 C517.50,423.60 518.18,425.78 518.80,427.60 C519.42,429.42 520.00,432.50 520.70,431.50 C521.40,430.50 522.15,424.40 523.00,421.60 C523.85,418.80 524.85,414.75 525.80,414.70 C526.75,414.65 527.83,420.07 528.70,421.30 C529.57,422.53 530.27,421.85 531.00,422.10 C531.73,422.35 532.43,422.05 533.10,422.80 C533.77,423.55 534.40,425.02 535.00,426.60 C535.60,428.18 536.12,430.13 536.70,432.30 C537.28,434.47 537.88,436.68 538.50,439.60 C539.12,442.52 539.85,446.28 540.40,449.80 C540.95,453.32 541.33,459.90 541.80,460.70 C542.27,461.50 542.72,456.05 543.20,454.60 C543.68,453.15 544.15,451.17 544.70,452.00 C545.25,452.83 545.88,456.33 546.50,459.60 C547.12,462.87 547.77,465.68 548.40,471.60 C549.03,477.52 549.67,494.23 550.30,495.10 C550.93,495.97 551.68,476.55 552.20,476.80 C552.72,477.05 552.97,489.62 553.40,496.60 C553.83,503.58 554.37,519.53 554.80,518.70 C555.23,517.87 555.60,500.90 556.00,491.60 C556.40,482.30 556.65,471.82 557.20,462.90 C557.75,453.98 558.75,444.48 559.30,438.10 C559.85,431.72 560.05,426.18 560.50,424.60 C560.95,423.02 561.42,427.00 562.00,428.60 C562.58,430.20 563.33,434.53 564.00,434.20 C564.67,433.87 565.42,428.65 566.00,426.60 C566.58,424.55 566.83,423.90 567.50,421.90 C568.17,419.90 569.12,416.65 570.00,414.60 C570.88,412.55 571.75,410.57 572.80,409.60 C573.85,408.63 575.18,407.97 576.30,408.80 C577.42,409.63 578.48,412.57 579.50,414.60 C580.52,416.63 581.18,421.10 582.40,421.00 C583.62,420.90 585.53,416.73 586.80,414.00 C588.07,411.27 588.83,407.52 590.00,404.60 C591.17,401.68 592.58,398.15 593.80,396.50 C595.02,394.85 595.83,394.27 597.30,394.70 C598.77,395.13 601.15,397.20 602.60,399.10 C604.05,401.00 605.02,404.60 606.00,406.10 C606.98,407.60 607.77,407.80 608.50,408.10 C609.23,408.40 609.73,408.48 610.40,407.90 C611.07,407.32 611.77,405.77 612.50,404.60 C613.23,403.43 613.53,402.25 614.80,400.90 C616.07,399.55 618.57,396.80 620.10,396.50 C621.63,396.20 622.83,397.78 624.00,399.10 C625.17,400.42 626.10,402.57 627.10,404.40 C628.10,406.23 629.27,408.35 630.00,410.10 C630.73,411.85 631.07,412.15 631.50,414.90 C631.93,417.65 632.25,421.32 632.60,426.60 C632.95,431.88 633.27,441.17 633.60,446.60 C633.93,452.03 634.27,459.03 634.60,459.20 C634.93,459.37 635.23,451.73 635.60,447.60 C635.97,443.47 636.32,438.57 636.80,434.40 C637.28,430.23 637.78,426.43 638.50,422.60 C639.22,418.77 640.30,414.57 641.10,411.40 C641.90,408.23 642.57,405.80 643.30,403.60 C644.03,401.40 644.40,399.53 645.50,398.20 C646.60,396.87 648.58,396.03 649.90,395.60 C651.22,395.17 652.38,395.17 653.40,395.60 C654.42,396.03 655.57,397.77 656.00,398.20" fill="none" stroke="#2a862a" stroke-width="1.5" stroke-linejoin="round"/>
<path d="M52.40,384.70 C55.23,384.72 64.07,384.72 69.40,384.80 C74.73,384.88 79.73,385.07 84.40,385.20 C89.07,385.33 93.23,385.63 97.40,385.60 C101.57,385.57 104.07,385.12 109.40,385.00 C114.73,384.88 122.73,384.93 129.40,384.90 C136.07,384.87 141.90,384.85 149.40,384.80 C156.90,384.75 166.07,384.60 174.40,384.60 C182.73,384.60 192.73,384.63 199.40,384.80 C206.07,384.97 211.23,385.25 214.40,385.60 C217.57,385.95 217.18,386.18 218.40,386.90 C219.62,387.62 220.78,388.82 221.70,389.90 C222.62,390.98 223.18,391.95 223.90,393.40 C224.62,394.85 225.28,396.88 226.00,398.60 C226.72,400.32 227.58,403.10 228.20,403.70 C228.82,404.30 229.22,402.92 229.70,402.20 C230.18,401.48 230.65,398.87 231.10,399.40 C231.55,399.93 231.92,402.13 232.40,405.40 C232.88,408.67 233.50,414.00 234.00,419.00 C234.50,424.00 235.03,430.57 235.40,435.40 C235.77,440.23 235.70,442.50 236.20,448.00 C236.70,453.50 237.78,458.00 238.40,468.40 C239.02,478.80 239.40,495.90 239.90,510.40 C240.40,524.90 240.98,544.40 241.40,555.40 C241.82,566.40 241.98,578.07 242.40,576.40 C242.82,574.73 243.40,558.07 243.90,545.40 C244.40,532.73 244.93,512.90 245.40,500.40 C245.87,487.90 246.20,479.23 246.70,470.40 C247.20,461.57 247.90,453.57 248.40,447.40 C248.90,441.23 249.32,436.32 249.70,433.40 C250.08,430.48 250.37,429.73 250.70,429.90 C251.03,430.07 251.35,430.98 251.70,434.40 C252.05,437.82 252.42,442.73 252.80,450.40 C253.18,458.07 253.52,467.23 254.00,480.40 C254.48,493.57 255.22,529.40 255.70,529.40 C256.18,529.40 256.52,498.80 256.90,480.40 C257.28,462.00 257.58,431.67 258.00,419.00 C258.42,406.33 258.92,408.03 259.40,404.40 C259.88,400.77 260.32,399.28 260.90,397.20 C261.48,395.12 262.18,393.37 262.90,391.90 C263.62,390.43 264.28,389.28 265.20,388.40 C266.12,387.52 267.18,387.07 268.40,386.60 C269.62,386.13 269.00,385.87 272.50,385.60 C276.00,385.33 282.62,385.20 289.40,385.00 C296.18,384.80 305.70,384.58 313.20,384.40 C320.70,384.22 328.57,384.05 334.40,383.90 C340.23,383.75 343.20,383.48 348.20,383.50 C353.20,383.52 357.53,383.85 364.40,384.00 C371.27,384.15 380.90,384.33 389.40,384.40 C397.90,384.47 408.73,384.22 415.40,384.40 C422.07,384.58 426.00,385.23 429.40,385.50 C432.80,385.77 433.97,385.60 435.80,386.00 C437.63,386.40 439.03,386.85 440.40,387.90 C441.77,388.95 443.05,390.88 444.00,392.30 C444.95,393.72 445.50,394.70 446.10,396.40 C446.70,398.10 447.13,400.17 447.60,402.50 C448.07,404.83 448.53,407.23 448.90,410.40 C449.27,413.57 449.50,414.83 449.80,421.50 C450.10,428.17 450.45,438.92 450.70,450.40 C450.95,461.88 451.10,473.73 451.30,490.40 C451.50,507.07 451.70,532.10 451.90,550.40 C452.10,568.70 452.28,598.53 452.50,600.20 C452.72,601.87 452.95,575.37 453.20,560.40 C453.45,545.43 453.72,525.40 454.00,510.40 C454.28,495.40 454.63,482.07 454.90,470.40 C455.17,458.73 455.35,449.03 455.60,440.40 C455.85,431.77 456.05,423.60 456.40,418.60 C456.75,413.60 457.22,412.83 457.70,410.40 C458.18,407.97 458.77,406.00 459.30,404.00 C459.83,402.00 460.28,400.10 460.90,398.40 C461.52,396.70 462.25,394.97 463.00,393.80 C463.75,392.63 464.43,392.02 465.40,391.40 C466.37,390.78 467.30,390.38 468.80,390.10 C470.30,389.82 472.45,389.73 474.40,389.70 C476.35,389.67 477.78,389.72 480.50,389.90 C483.22,390.08 488.30,390.47 490.70,390.80 C493.10,391.13 493.80,391.40 494.90,391.90 C496.00,392.40 496.67,392.97 497.30,393.80 C497.93,394.63 498.33,395.45 498.70,396.90 C499.07,398.35 499.25,398.58 499.50,402.50 C499.75,406.42 499.93,412.48 500.20,420.40 C500.47,428.32 500.72,443.35 501.10,450.00 C501.48,456.65 501.82,461.52 502.50,460.30 C503.18,459.08 504.42,441.25 505.20,442.70 C505.98,444.15 506.70,468.55 507.20,469.00 C507.70,469.45 507.88,453.18 508.20,445.40 C508.52,437.62 508.65,428.47 509.10,422.30 C509.55,416.13 510.17,411.80 510.90,408.40 C511.63,405.00 512.78,401.90 513.50,401.90 C514.22,401.90 514.72,405.48 515.20,408.40 C515.68,411.32 515.90,416.40 516.40,419.40 C516.90,422.40 517.58,424.58 518.20,426.40 C518.82,428.22 519.40,431.30 520.10,430.30 C520.80,429.30 521.55,423.20 522.40,420.40 C523.25,417.60 524.25,413.55 525.20,413.50 C526.15,413.45 527.23,418.87 528.10,420.10 C528.97,421.33 529.67,420.65 530.40,420.90 C531.13,421.15 531.83,420.85 532.50,421.60 C533.17,422.35 533.80,423.82 534.40,425.40 C535.00,426.98 535.52,428.93 536.10,431.10 C536.68,433.27 537.28,435.48 537.90,438.40 C538.52,441.32 539.25,445.08 539.80,448.60 C540.35,452.12 540.73,458.70 541.20,459.50 C541.67,460.30 542.12,454.85 542.60,453.40 C543.08,451.95 543.55,449.97 544.10,450.80 C544.65,451.63 545.28,455.13 545.90,458.40 C546.52,461.67 547.17,464.48 547.80,470.40 C548.43,476.32 549.07,493.03 549.70,493.90 C550.33,494.77 551.08,475.35 551.60,475.60 C552.12,475.85 552.37,488.42 552.80,495.40 C553.23,502.38 553.77,518.33 554.20,517.50 C554.63,516.67 555.00,499.70 555.40,490.40 C555.80,481.10 556.05,470.62 556.60,461.70 C557.15,452.78 558.15,443.28 558.70,436.90 C559.25,430.52 559.45,424.98 559.90,423.40 C560.35,421.82 560.82,425.80 561.40,427.40 C561.98,429.00 562.73,433.33 563.40,433.00 C564.07,432.67 564.82,427.45 565.40,425.40 C565.98,423.35 566.23,422.70 566.90,420.70 C567.57,418.70 568.52,415.45 569.40,413.40 C570.28,411.35 571.15,409.37 572.20,408.40 C573.25,407.43 574.58,406.77 575.70,407.60 C576.82,408.43 577.88,411.37 578.90,413.40 C579.92,415.43 580.58,419.90 581.80,419.80 C583.02,419.70 584.93,415.53 586.20,412.80 C587.47,410.07 588.23,406.32 589.40,403.40 C590.57,400.48 591.98,396.95 593.20,395.30 C594.42,393.65 595.23,393.07 596.70,393.50 C598.17,393.93 600.55,396.00 602.00,397.90 C603.45,399.80 604.42,403.40 605.40,404.90 C606.38,406.40 607.17,406.60 607.90,406.90 C608.63,407.20 609.13,407.28 609.80,406.70 C610.47,406.12 611.17,404.57 611.90,403.40 C612.63,402.23 612.93,401.05 614.20,399.70 C615.47,398.35 617.97,395.60 619.50,395.30 C621.03,395.00 622.23,396.58 623.40,397.90 C624.57,399.22 625.50,401.37 626.50,403.20 C627.50,405.03 628.67,407.15 629.40,408.90 C630.13,410.65 630.47,410.95 630.90,413.70 C631.33,416.45 631.65,420.12 632.00,425.40 C632.35,430.68 632.67,439.97 633.00,445.40 C633.33,450.83 633.67,457.83 634.00,458.00 C634.33,458.17 634.63,450.53 635.00,446.40 C635.37,442.27 635.72,437.37 636.20,433.20 C636.68,429.03 637.18,425.23 637.90,421.40 C638.62,417.57 639.70,413.37 640.50,410.20 C641.30,407.03 641.97,404.60 642.70,402.40 C643.43,400.20 643.80,398.33 644.90,397.00 C646.00,395.67 647.98,394.83 649.30,394.40 C650.62,393.97 651.78,393.97 652.80,394.40 C653.82,394.83 654.97,396.57 655.40,397.00" fill="none" stroke="#9a8888" stroke-width="1.0" stroke-linejoin="round"/>
<path d="M53.40,383.40 C56.23,383.42 65.07,383.42 70.40,383.50 C75.73,383.58 80.73,383.77 85.40,383.90 C90.07,384.03 94.23,384.33 98.40,384.30 C102.57,384.27 105.07,383.82 110.40,383.70 C115.73,383.58 123.73,383.63 130.40,383.60 C137.07,383.57 142.90,383.55 150.40,383.50 C157.90,383.45 167.07,383.30 175.40,383.30 C183.73,383.30 193.73,383.33 200.40,383.50 C207.07,383.67 212.23,383.95 215.40,384.30 C218.57,384.65 218.18,384.88 219.40,385.60 C220.62,386.32 221.78,387.52 222.70,388.60 C223.62,389.68 224.18,390.65 224.90,392.10 C225.62,393.55 226.28,395.58 227.00,397.30 C227.72,399.02 228.58,401.80 229.20,402.40 C229.82,403.00 230.22,401.62 230.70,400.90 C231.18,400.18 231.65,397.57 232.10,398.10 C232.55,398.63 232.92,400.83 233.40,404.10 C233.88,407.37 234.50,412.70 235.00,417.70 C235.50,422.70 236.03,429.27 236.40,434.10 C236.77,438.93 236.70,441.20 237.20,446.70 C237.70,452.20 238.78,456.70 239.40,467.10 C240.02,477.50 240.40,494.60 240.90,509.10 C241.40,523.60 241.98,543.10 242.40,554.10 C242.82,565.10 242.98,576.77 243.40,575.10 C243.82,573.43 244.40,556.77 244.90,544.10 C245.40,531.43 245.93,511.60 246.40,499.10 C246.87,486.60 247.20,477.93 247.70,469.10 C248.20,460.27 248.90,452.27 249.40,446.10 C249.90,439.93 250.32,435.02 250.70,432.10 C251.08,429.18 251.37,428.43 251.70,428.60 C252.03,428.77 252.35,429.68 252.70,433.10 C253.05,436.52 253.42,441.43 253.80,449.10 C254.18,456.77 254.52,465.93 255.00,479.10 C255.48,492.27 256.22,528.10 256.70,528.10 C257.18,528.10 257.52,497.50 257.90,479.10 C258.28,460.70 258.58,430.37 259.00,417.70 C259.42,405.03 259.92,406.73 260.40,403.10 C260.88,399.47 261.32,397.98 261.90,395.90 C262.48,393.82 263.18,392.07 263.90,390.60 C264.62,389.13 265.28,387.98 266.20,387.10 C267.12,386.22 268.18,385.77 269.40,385.30 C270.62,384.83 270.00,384.57 273.50,384.30 C277.00,384.03 283.62,383.90 290.40,383.70 C297.18,383.50 306.70,383.28 314.20,383.10 C321.70,382.92 329.57,382.75 335.40,382.60 C341.23,382.45 344.20,382.18 349.20,382.20 C354.20,382.22 358.53,382.55 365.40,382.70 C372.27,382.85 381.90,383.03 390.40,383.10 C398.90,383.17 409.73,382.92 416.40,383.10 C423.07,383.28 427.00,383.93 430.40,384.20 C433.80,384.47 434.97,384.30 436.80,384.70 C438.63,385.10 440.03,385.55 441.40,386.60 C442.77,387.65 444.05,389.58 445.00,391.00 C445.95,392.42 446.50,393.40 447.10,395.10 C447.70,396.80 448.13,398.87 448.60,401.20 C449.07,403.53 449.53,405.93 449.90,409.10 C450.27,412.27 450.50,413.53 450.80,420.20 C451.10,426.87 451.45,437.62 451.70,449.10 C451.95,460.58 452.10,472.43 452.30,489.10 C452.50,505.77 452.70,530.80 452.90,549.10 C453.10,567.40 453.28,597.23 453.50,598.90 C453.72,600.57 453.95,574.07 454.20,559.10 C454.45,544.13 454.72,524.10 455.00,509.10 C455.28,494.10 455.63,480.77 455.90,469.10 C456.17,457.43 456.35,447.73 456.60,439.10 C456.85,430.47 457.05,422.30 457.40,417.30 C457.75,412.30 458.22,411.53 458.70,409.10 C459.18,406.67 459.77,404.70 460.30,402.70 C460.83,400.70 461.28,398.80 461.90,397.10 C462.52,395.40 463.25,393.67 464.00,392.50 C464.75,391.33 465.43,390.72 466.40,390.10 C467.37,389.48 468.30,389.08 469.80,388.80 C471.30,388.52 473.45,388.43 475.40,388.40 C477.35,388.37 478.78,388.42 481.50,388.60 C484.22,388.78 489.30,389.17 491.70,389.50 C494.10,389.83 494.80,390.10 495.90,390.60 C497.00,391.10 497.67,391.67 498.30,392.50 C498.93,393.33 499.33,394.15 499.70,395.60 C500.07,397.05 500.25,397.28 500.50,401.20 C500.75,405.12 500.93,411.18 501.20,419.10 C501.47,427.02 501.72,442.05 502.10,448.70 C502.48,455.35 502.82,460.22 503.50,459.00 C504.18,457.78 505.42,439.95 506.20,441.40 C506.98,442.85 507.70,467.25 508.20,467.70 C508.70,468.15 508.88,451.88 509.20,444.10 C509.52,436.32 509.65,427.17 510.10,421.00 C510.55,414.83 511.17,410.50 511.90,407.10 C512.63,403.70 513.78,400.60 514.50,400.60 C515.22,400.60 515.72,404.18 516.20,407.10 C516.68,410.02 516.90,415.10 517.40,418.10 C517.90,421.10 518.58,423.28 519.20,425.10 C519.82,426.92 520.40,430.00 521.10,429.00 C521.80,428.00 522.55,421.90 523.40,419.10 C524.25,416.30 525.25,412.25 526.20,412.20 C527.15,412.15 528.23,417.57 529.10,418.80 C529.97,420.03 530.67,419.35 531.40,419.60 C532.13,419.85 532.83,419.55 533.50,420.30 C534.17,421.05 534.80,422.52 535.40,424.10 C536.00,425.68 536.52,427.63 537.10,429.80 C537.68,431.97 538.28,434.18 538.90,437.10 C539.52,440.02 540.25,443.78 540.80,447.30 C541.35,450.82 541.73,457.40 542.20,458.20 C542.67,459.00 543.12,453.55 543.60,452.10 C544.08,450.65 544.55,448.67 545.10,449.50 C545.65,450.33 546.28,453.83 546.90,457.10 C547.52,460.37 548.17,463.18 548.80,469.10 C549.43,475.02 550.07,491.73 550.70,492.60 C551.33,493.47 552.08,474.05 552.60,474.30 C553.12,474.55 553.37,487.12 553.80,494.10 C554.23,501.08 554.77,517.03 555.20,516.20 C555.63,515.37 556.00,498.40 556.40,489.10 C556.80,479.80 557.05,469.32 557.60,460.40 C558.15,451.48 559.15,441.98 559.70,435.60 C560.25,429.22 560.45,423.68 560.90,422.10 C561.35,420.52 561.82,424.50 562.40,426.10 C562.98,427.70 563.73,432.03 564.40,431.70 C565.07,431.37 565.82,426.15 566.40,424.10 C566.98,422.05 567.23,421.40 567.90,419.40 C568.57,417.40 569.52,414.15 570.40,412.10 C571.28,410.05 572.15,408.07 573.20,407.10 C574.25,406.13 575.58,405.47 576.70,406.30 C577.82,407.13 578.88,410.07 579.90,412.10 C580.92,414.13 581.58,418.60 582.80,418.50 C584.02,418.40 585.93,414.23 587.20,411.50 C588.47,408.77 589.23,405.02 590.40,402.10 C591.57,399.18 592.98,395.65 594.20,394.00 C595.42,392.35 596.23,391.77 597.70,392.20 C599.17,392.63 601.55,394.70 603.00,396.60 C604.45,398.50 605.42,402.10 606.40,403.60 C607.38,405.10 608.17,405.30 608.90,405.60 C609.63,405.90 610.13,405.98 610.80,405.40 C611.47,404.82 612.17,403.27 612.90,402.10 C613.63,400.93 613.93,399.75 615.20,398.40 C616.47,397.05 618.97,394.30 620.50,394.00 C622.03,393.70 623.23,395.28 624.40,396.60 C625.57,397.92 626.50,400.07 627.50,401.90 C628.50,403.73 629.67,405.85 630.40,407.60 C631.13,409.35 631.47,409.65 631.90,412.40 C632.33,415.15 632.65,418.82 633.00,424.10 C633.35,429.38 633.67,438.67 634.00,444.10 C634.33,449.53 634.67,456.53 635.00,456.70 C635.33,456.87 635.63,449.23 636.00,445.10 C636.37,440.97 636.72,436.07 637.20,431.90 C637.68,427.73 638.18,423.93 638.90,420.10 C639.62,416.27 640.70,412.07 641.50,408.90 C642.30,405.73 642.97,403.30 643.70,401.10 C644.43,398.90 644.80,397.03 645.90,395.70 C647.00,394.37 648.98,393.53 650.30,393.10 C651.62,392.67 652.78,392.67 653.80,393.10 C654.82,393.53 655.97,395.27 656.40,395.70" fill="none" stroke="#dba0a0" stroke-width="1.0" stroke-linejoin="round"/>
<path d="M53.50,384.00 C54.21,384.02 56.33,384.17 57.75,384.13 C59.17,384.09 60.58,383.78 62.00,383.76 C63.42,383.75 64.83,384.03 66.25,384.05 C67.67,384.07 68.96,383.91 70.50,383.90 C72.04,383.89 73.83,383.97 75.50,384.00 C77.17,384.04 78.83,383.99 80.50,384.10 C82.17,384.21 83.94,384.61 85.50,384.66 C87.06,384.71 88.39,384.42 89.83,384.41 C91.28,384.40 92.72,384.54 94.17,384.62 C95.61,384.69 97.11,384.78 98.50,384.83 C99.89,384.89 101.17,385.02 102.50,384.92 C103.83,384.83 105.17,384.36 106.50,384.25 C107.83,384.14 109.17,384.26 110.50,384.27 C111.83,384.28 113.17,384.27 114.50,384.31 C115.83,384.35 117.17,384.47 118.50,384.49 C119.83,384.51 121.17,384.44 122.50,384.43 C123.83,384.42 125.17,384.50 126.50,384.44 C127.83,384.38 129.17,384.12 130.50,384.07 C131.83,384.02 133.17,384.13 134.50,384.13 C135.83,384.13 137.17,384.04 138.50,384.08 C139.83,384.12 141.17,384.32 142.50,384.37 C143.83,384.42 145.17,384.47 146.50,384.39 C147.83,384.31 149.14,383.98 150.50,383.89 C151.86,383.80 153.28,383.88 154.67,383.87 C156.06,383.87 157.44,383.88 158.83,383.87 C160.22,383.87 161.61,383.83 163.00,383.84 C164.39,383.85 165.78,383.93 167.17,383.96 C168.56,383.98 169.94,384.02 171.33,383.99 C172.72,383.95 174.11,383.82 175.50,383.76 C176.89,383.70 178.28,383.61 179.67,383.64 C181.06,383.66 182.44,383.87 183.83,383.92 C185.22,383.97 186.61,383.90 188.00,383.92 C189.39,383.95 190.78,384.00 192.17,384.07 C193.56,384.14 194.94,384.31 196.33,384.34 C197.72,384.36 198.97,384.21 200.50,384.21 C202.03,384.22 203.83,384.29 205.50,384.38 C207.17,384.46 208.83,384.62 210.50,384.70 C212.17,384.79 214.00,384.65 215.50,384.90 C217.00,385.15 218.28,385.48 219.50,386.20 C220.72,386.92 221.88,388.12 222.80,389.20 C223.72,390.28 224.28,391.25 225.00,392.70 C225.72,394.15 226.38,396.18 227.10,397.90 C227.82,399.62 228.68,402.40 229.30,403.00 C229.92,403.60 230.32,402.22 230.80,401.50 C231.28,400.78 231.75,398.17 232.20,398.70 C232.65,399.23 233.02,401.43 233.50,404.70 C233.98,407.97 234.60,413.30 235.10,418.30 C235.60,423.30 236.13,429.87 236.50,434.70 C236.87,439.53 236.80,441.80 237.30,447.30 C237.80,452.80 238.88,457.30 239.50,467.70 C240.12,478.10 240.50,495.20 241.00,509.70 C241.50,524.20 242.08,543.70 242.50,554.70 C242.92,565.70 243.08,577.37 243.50,575.70 C243.92,574.03 244.50,557.37 245.00,544.70 C245.50,532.03 246.03,512.20 246.50,499.70 C246.97,487.20 247.30,478.53 247.80,469.70 C248.30,460.87 249.00,452.87 249.50,446.70 C250.00,440.53 250.42,435.62 250.80,432.70 C251.18,429.78 251.47,429.03 251.80,429.20 C252.13,429.37 252.45,430.28 252.80,433.70 C253.15,437.12 253.52,442.03 253.90,449.70 C254.28,457.37 254.62,466.53 255.10,479.70 C255.58,492.87 256.32,528.70 256.80,528.70 C257.28,528.70 257.62,498.10 258.00,479.70 C258.38,461.30 258.68,430.97 259.10,418.30 C259.52,405.63 260.02,407.33 260.50,403.70 C260.98,400.07 261.42,398.58 262.00,396.50 C262.58,394.42 263.28,392.67 264.00,391.20 C264.72,389.73 265.38,388.58 266.30,387.70 C267.22,386.82 268.28,386.37 269.50,385.90 C270.72,385.43 272.21,385.07 273.60,384.90 C274.99,384.73 276.42,384.95 277.83,384.86 C279.23,384.76 280.64,384.36 282.05,384.33 C283.46,384.30 284.87,384.67 286.27,384.69 C287.68,384.71 289.00,384.52 290.50,384.47 C292.00,384.42 293.67,384.44 295.26,384.40 C296.85,384.37 298.43,384.33 300.02,384.24 C301.61,384.15 303.19,383.96 304.78,383.88 C306.37,383.80 307.95,383.83 309.54,383.76 C311.13,383.69 312.80,383.48 314.30,383.46 C315.80,383.45 317.13,383.72 318.54,383.68 C319.95,383.64 321.37,383.33 322.78,383.24 C324.19,383.15 325.61,383.16 327.02,383.14 C328.43,383.12 329.85,383.15 331.26,383.13 C332.67,383.10 334.03,383.02 335.50,383.00 C336.97,382.97 338.57,383.03 340.10,382.97 C341.63,382.92 343.17,382.74 344.70,382.66 C346.23,382.59 347.86,382.49 349.30,382.50 C350.74,382.51 352.00,382.66 353.35,382.72 C354.70,382.77 356.05,382.75 357.40,382.81 C358.75,382.87 360.10,383.06 361.45,383.09 C362.80,383.13 364.13,382.93 365.50,383.02 C366.87,383.10 368.28,383.51 369.67,383.59 C371.06,383.67 372.44,383.55 373.83,383.50 C375.22,383.45 376.61,383.30 378.00,383.29 C379.39,383.28 380.78,383.38 382.17,383.42 C383.56,383.46 384.94,383.51 386.33,383.54 C387.72,383.58 389.08,383.63 390.50,383.62 C391.92,383.61 393.39,383.43 394.83,383.47 C396.28,383.52 397.72,383.82 399.17,383.91 C400.61,384.00 402.06,384.03 403.50,384.00 C404.94,383.96 406.39,383.73 407.83,383.68 C409.28,383.63 410.72,383.73 412.17,383.69 C413.61,383.65 415.00,383.43 416.50,383.45 C418.00,383.47 419.61,383.68 421.17,383.83 C422.72,383.98 424.28,384.20 425.83,384.34 C427.39,384.48 428.66,384.50 430.50,384.66 C432.34,384.82 435.07,384.88 436.90,385.30 C438.73,385.72 440.13,386.15 441.50,387.20 C442.87,388.25 444.15,390.18 445.10,391.60 C446.05,393.02 446.60,394.00 447.20,395.70 C447.80,397.40 448.23,399.47 448.70,401.80 C449.17,404.13 449.63,406.53 450.00,409.70 C450.37,412.87 450.60,414.13 450.90,420.80 C451.20,427.47 451.55,438.22 451.80,449.70 C452.05,461.18 452.20,473.03 452.40,489.70 C452.60,506.37 452.80,531.40 453.00,549.70 C453.20,568.00 453.38,597.83 453.60,599.50 C453.82,601.17 454.05,574.67 454.30,559.70 C454.55,544.73 454.82,524.70 455.10,509.70 C455.38,494.70 455.73,481.37 456.00,469.70 C456.27,458.03 456.45,448.33 456.70,439.70 C456.95,431.07 457.15,422.90 457.50,417.90 C457.85,412.90 458.32,412.13 458.80,409.70 C459.28,407.27 459.87,405.30 460.40,403.30 C460.93,401.30 461.38,399.40 462.00,397.70 C462.62,396.00 463.35,394.27 464.10,393.10 C464.85,391.93 465.53,391.32 466.50,390.70 C467.47,390.08 468.40,389.65 469.90,389.40 C471.40,389.15 473.55,389.26 475.50,389.20 C477.45,389.13 479.73,388.97 481.60,389.00 C483.47,389.02 485.00,389.13 486.70,389.36 C488.40,389.59 490.25,390.06 491.80,390.37 C493.35,390.68 494.90,390.75 496.00,391.20 C497.10,391.65 497.77,392.27 498.40,393.10 C499.03,393.93 499.43,394.75 499.80,396.20 C500.17,397.65 500.35,397.88 500.60,401.80 C500.85,405.72 501.03,411.78 501.30,419.70 C501.57,427.62 501.82,442.65 502.20,449.30 C502.58,455.95 502.92,460.82 503.60,459.60 C504.28,458.38 505.52,440.55 506.30,442.00 C507.08,443.45 507.80,467.85 508.30,468.30 C508.80,468.75 508.98,452.48 509.30,444.70 C509.62,436.92 509.75,427.77 510.20,421.60 C510.65,415.43 511.27,411.10 512.00,407.70 C512.73,404.30 513.88,401.20 514.60,401.20 C515.32,401.20 515.82,404.78 516.30,407.70 C516.78,410.62 517.00,415.70 517.50,418.70 C518.00,421.70 518.68,423.88 519.30,425.70 C519.92,427.52 520.50,430.60 521.20,429.60 C521.90,428.60 522.65,422.50 523.50,419.70 C524.35,416.90 525.35,412.85 526.30,412.80 C527.25,412.75 528.33,418.17 529.20,419.40 C530.07,420.63 530.77,419.95 531.50,420.20 C532.23,420.45 532.93,420.15 533.60,420.90 C534.27,421.65 534.90,423.12 535.50,424.70 C536.10,426.28 536.62,428.23 537.20,430.40 C537.78,432.57 538.38,434.78 539.00,437.70 C539.62,440.62 540.35,444.38 540.90,447.90 C541.45,451.42 541.83,458.00 542.30,458.80 C542.77,459.60 543.22,454.15 543.70,452.70 C544.18,451.25 544.65,449.27 545.20,450.10 C545.75,450.93 546.38,454.43 547.00,457.70 C547.62,460.97 548.27,463.78 548.90,469.70 C549.53,475.62 550.17,492.33 550.80,493.20 C551.43,494.07 552.18,474.65 552.70,474.90 C553.22,475.15 553.47,487.72 553.90,494.70 C554.33,501.68 554.87,517.63 555.30,516.80 C555.73,515.97 556.10,499.00 556.50,489.70 C556.90,480.40 557.15,469.92 557.70,461.00 C558.25,452.08 559.25,442.58 559.80,436.20 C560.35,429.82 560.55,424.28 561.00,422.70 C561.45,421.12 561.92,425.10 562.50,426.70 C563.08,428.30 563.83,432.63 564.50,432.30 C565.17,431.97 565.92,426.75 566.50,424.70 C567.08,422.65 567.33,422.00 568.00,420.00 C568.67,418.00 569.62,414.75 570.50,412.70 C571.38,410.65 572.25,408.67 573.30,407.70 C574.35,406.73 575.68,406.07 576.80,406.90 C577.92,407.73 578.98,410.67 580.00,412.70 C581.02,414.73 581.68,419.20 582.90,419.10 C584.12,419.00 586.03,414.83 587.30,412.10 C588.57,409.37 589.33,405.62 590.50,402.70 C591.67,399.78 593.08,396.25 594.30,394.60 C595.52,392.95 596.33,392.37 597.80,392.80 C599.27,393.23 601.65,395.30 603.10,397.20 C604.55,399.10 605.52,402.70 606.50,404.20 C607.48,405.70 608.27,405.90 609.00,406.20 C609.73,406.50 610.23,406.58 610.90,406.00 C611.57,405.42 612.27,403.87 613.00,402.70 C613.73,401.53 614.03,400.35 615.30,399.00 C616.57,397.65 619.07,394.90 620.60,394.60 C622.13,394.30 623.33,395.88 624.50,397.20 C625.67,398.52 626.60,400.67 627.60,402.50 C628.60,404.33 629.77,406.45 630.50,408.20 C631.23,409.95 631.57,410.25 632.00,413.00 C632.43,415.75 632.75,419.42 633.10,424.70 C633.45,429.98 633.77,439.27 634.10,444.70 C634.43,450.13 634.77,457.13 635.10,457.30 C635.43,457.47 635.73,449.83 636.10,445.70 C636.47,441.57 636.82,436.67 637.30,432.50 C637.78,428.33 638.28,424.53 639.00,420.70 C639.72,416.87 640.80,412.67 641.60,409.50 C642.40,406.33 643.07,403.90 643.80,401.70 C644.53,399.50 644.90,397.63 646.00,396.30 C647.10,394.97 649.08,394.13 650.40,393.70 C651.72,393.27 652.88,393.27 653.90,393.70 C654.92,394.13 656.07,395.87 656.50,396.30" fill="none" stroke="#bdb6b6" stroke-width="1.1" stroke-linejoin="round"/>
<text x="94.2" y="434.4" class="bn" textLength="95.9" lengthAdjust="spacingAndGlyphs">O – H (alcohols)</text>
<text x="142.8" y="467.2" class="bn" textLength="90.6" lengthAdjust="spacingAndGlyphs">=C-H (alkenes)</text>
<text x="290.5" y="470.5" class="bn" textLength="99" lengthAdjust="spacingAndGlyphs">C-H (methylene)</text>
<text x="291" y="503.2" class="bn" textLength="118.8" lengthAdjust="spacingAndGlyphs">C=O (ester carbonyl</text>
<text x="318.8" y="522.7" class="bn" textLength="62.4" lengthAdjust="spacingAndGlyphs">functional</text>
<text x="329.9" y="539.9" class="bn" textLength="38.8" lengthAdjust="spacingAndGlyphs">group)</text>
<text x="278.5" y="570.4" class="bn" textLength="81.9" lengthAdjust="spacingAndGlyphs">C-H (alkanes)</text>
<text x="479.8" y="500.6" class="bn" textLength="36" lengthAdjust="spacingAndGlyphs">C – H</text>
<text x="468.1" y="519.1" class="bn" textLength="60.5" lengthAdjust="spacingAndGlyphs">(methyl or</text>
<text x="478.6" y="538.2" class="bn" textLength="37.2" lengthAdjust="spacingAndGlyphs">–CH<tspan font-size="9.5">3</tspan>)</text>
<text x="522.8" y="558.4" class="bn" textLength="65.1" lengthAdjust="spacingAndGlyphs">C-O alkoxy</text>
<text x="517" y="577" class="bn" textLength="76" lengthAdjust="spacingAndGlyphs">esters, ethers</text>
<text x="523.3" y="595.7" class="bn" textLength="64.1" lengthAdjust="spacingAndGlyphs">and C-O-C</text>
<text x="574.4" y="463.2" class="bn" style="font-size:9.5px" textLength="54.1" lengthAdjust="spacingAndGlyphs">=C-H alkenes</text>
<text x="601.4" y="513.9" class="bn" textLength="59" lengthAdjust="spacingAndGlyphs">=C-H and</text>
<text x="607.6" y="532.5" class="bn" textLength="47.7" lengthAdjust="spacingAndGlyphs">–(CH<tspan font-size="9.5">2</tspan>)n</text>
<text x="601.4" y="552" class="bn" textLength="59.7" lengthAdjust="spacingAndGlyphs">methylene</text>
<text x="610" y="569" class="bn" textLength="40.1" lengthAdjust="spacingAndGlyphs">groups</text>
<line x1="149.30" y1="396.30" x2="144.73" y2="416.53" stroke="#1f3c78" stroke-width="1.8"/>
<path d="M143.60,421.50 L141.96,412.42 L144.86,415.94 L148.99,414.00 Z" fill="#1f3c78"/>
<line x1="224.20" y1="414.70" x2="217.48" y2="442.84" stroke="#1f3c78" stroke-width="1.8"/>
<path d="M216.30,447.80 L214.77,438.70 L217.62,442.26 L221.77,440.37 Z" fill="#1f3c78"/>
<line x1="264.70" y1="491.30" x2="282.99" y2="475.98" stroke="#1f3c78" stroke-width="1.8"/>
<path d="M286.90,472.70 L282.70,480.92 L282.53,476.36 L278.07,475.40 Z" fill="#1f3c78"/>
<line x1="442.30" y1="526.60" x2="405.49" y2="518.94" stroke="#1f3c78" stroke-width="1.8"/>
<path d="M400.50,517.90 L409.56,516.11 L406.08,519.06 L408.09,523.16 Z" fill="#1f3c78"/>
<line x1="248.00" y1="552.30" x2="269.06" y2="557.65" stroke="#1f3c78" stroke-width="1.8"/>
<path d="M274.00,558.90 L264.88,560.30 L268.48,557.50 L266.65,553.32 Z" fill="#1f3c78"/>
<line x1="503.70" y1="469.10" x2="503.18" y2="483.90" stroke="#1f3c78" stroke-width="1.8"/>
<path d="M503.00,489.00 L499.70,480.38 L503.20,483.30 L506.90,480.63 Z" fill="#1f3c78"/>
<line x1="554.00" y1="520.00" x2="551.95" y2="543.12" stroke="#1f3c78" stroke-width="1.8"/>
<path d="M551.50,548.20 L548.66,539.42 L552.00,542.52 L555.84,540.05 Z" fill="#1f3c78"/>
<line x1="611.30" y1="416.00" x2="608.88" y2="441.72" stroke="#1f3c78" stroke-width="1.8"/>
<path d="M608.40,446.80 L605.61,438.00 L608.93,441.13 L612.78,438.67 Z" fill="#1f3c78"/>
<line x1="637.80" y1="464.40" x2="640.74" y2="490.93" stroke="#1f3c78" stroke-width="1.8"/>
<path d="M641.30,496.00 L636.79,487.95 L640.67,490.33 L643.94,487.16 Z" fill="#1f3c78"/>
</svg>
</body></html>
